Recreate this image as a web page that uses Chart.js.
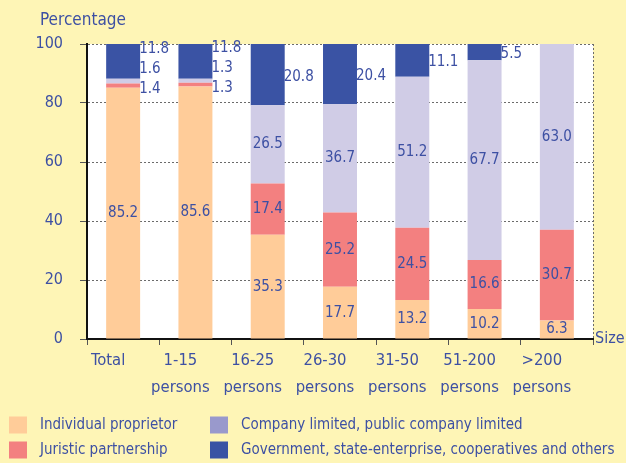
<!DOCTYPE html>
<html>
<head>
<meta charset="utf-8">
<script src="https://cdn.jsdelivr.net/npm/chart.js@4.4.1/dist/chart.umd.min.js"></script>
<style>
  html, body { margin: 0; padding: 0; background: #fef5b6; }
  #wrap { width: 626px; height: 463px; }
</style>
</head>
<body>
<div id="wrap"><canvas id="chart" width="626" height="463"></canvas></div>
<script>
// ---- data ----
const categories = ['Total', ['1-15', 'persons'], ['16-25', 'persons'], ['26-30', 'persons'],
                    ['31-50', 'persons'], ['51-200', 'persons'], ['>200', 'persons']];
const individual = [85.2, 85.6, 35.3, 17.7, 13.2, 10.2, 6.3];
const juristic   = [1.4, 1.3, 17.4, 25.2, 24.5, 16.6, 30.7];
const company    = [1.6, 1.3, 26.5, 36.7, 51.2, 67.7, 63.0];
const government = [11.8, 11.8, 20.8, 20.4, 11.1, 5.5, 0];
const yTicks     = [0, 20, 40, 60, 80, 100];
const seriesNames = ['Individual proprietor', 'Juristic partnership',
                     'Company limited, public company limited',
                     'Government, state-enterprise, cooperatives and others'];

// ---- look ----
const FONT = '"DejaVu Sans Condensed", "DejaVu Sans", sans-serif';
const textColor = '#3d50a3';
const barColors    = ['#ffcc99', '#f38080', '#d0cce6', '#3a53a4'];
const legendColors = ['#ffcc99', '#f38080', '#9999cc', '#3a53a4'];

// white plot background + dashed right edge
const plotFrame = {
  id: 'plotFrame',
  beforeDraw(chart) {
    const { ctx, chartArea: a } = chart;
    ctx.save();
    ctx.fillStyle = '#ffffff';
    ctx.fillRect(a.left, a.top, a.right - a.left, a.bottom - a.top);
    ctx.restore();
  },
  afterDraw(chart) {
    const { ctx, chartArea: a } = chart;
    ctx.save();
    ctx.strokeStyle = '#6b6b6b';
    ctx.lineWidth = 1;
    ctx.setLineDash([2, 2]);
    ctx.beginPath();
    ctx.moveTo(a.right + 0.5, a.top);
    ctx.lineTo(a.right + 0.5, a.bottom);
    ctx.stroke();
    ctx.setLineDash([]);
    // axis captions
    ctx.fillStyle = textColor;
    ctx.font = '17px ' + FONT;
    ctx.textBaseline = 'middle';
    ctx.textAlign = 'left';
    ctx.fillText('Percentage', 40, 21);
    ctx.font = '16px ' + FONT;
    ctx.fillText('Size', a.right + 2, a.bottom);
    ctx.restore();
  }
};

// value labels: inside segments, or beside the bar for the top / thin ones
const valueLabels = {
  id: 'valueLabels',
  afterDatasetsDraw(chart) {
    const ctx = chart.ctx;
    ctx.save();
    ctx.font = '15px ' + FONT;
    ctx.fillStyle = textColor;
    ctx.textBaseline = 'middle';
    chart.data.labels.forEach((_, i) => {
      const outside = [];
      chart.data.datasets.forEach((ds, d) => {
        const v = ds.data[i];
        if (!v) return;
        const bar = chart.getDatasetMeta(d).data[i];
        const mid = (bar.y + bar.base) / 2;
        if (d === 3 || v < 5) {
          outside.push({ v, x: bar.x + bar.width / 2 - 1, y: mid });
        } else {
          ctx.textAlign = 'center';
          ctx.fillText(v.toFixed(1), bar.x, mid);
        }
      });
      // thin segments sit in a little column beside the bar
      let prev = Infinity;
      outside.forEach((o, k) => {
        const y = outside.length > 1 ? Math.min(o.y + (k === 0 ? 4 : 0), prev - 20) : o.y + 2;
        ctx.textAlign = 'left';
        ctx.fillText(o.v.toFixed(1), o.x, y);
        prev = y;
      });
    });
    ctx.restore();
  }
};

// 2x2 legend under the axis
const gridLegend = {
  id: 'gridLegend',
  afterDraw(chart) {
    const ctx = chart.ctx;
    const colX = [9, 210];
    const rowY = [425, 450];
    ctx.save();
    ctx.font = '15px ' + FONT;
    ctx.textBaseline = 'middle';
    ctx.textAlign = 'left';
    seriesNames.forEach((name, d) => {
      const x = colX[Math.floor(d / 2)];
      const y = rowY[d % 2];
      ctx.fillStyle = legendColors[d];
      ctx.fillRect(x, y - 8.5, 18, 17);
      ctx.fillStyle = textColor;
      ctx.fillText(name, x + 31, y);
    });
    ctx.restore();
  }
};

const series = [individual, juristic, company, government];

new Chart(document.getElementById('chart'), {
  type: 'bar',
  data: {
    labels: categories,
    datasets: series.map((data, d) => ({
      label: seriesNames[d],
      data,
      backgroundColor: barColors[d],
      borderWidth: 0,
      barPercentage: 0.47,
      categoryPercentage: 1
    }))
  },
  options: {
    responsive: false,
    animation: false,
    devicePixelRatio: 1,
    layout: { padding: { left: 0, right: 33, top: 44, bottom: 0 } },
    plugins: {
      legend: { display: false },
      tooltip: { enabled: false }
    },
    scales: {
      x: {
        stacked: true,
        afterFit(scale) { scale.height = 124; },
        grid: { drawOnChartArea: false, tickLength: 6, color: '#555', offset: true },
        border: { color: '#111', width: 2 },
        ticks: {
          color: textColor,
          font: { family: FONT, size: 16.5, lineHeight: 1.6 },
          padding: 3,
          labelOffset: -15,
          maxRotation: 0,
          autoSkip: false
        }
      },
      y: {
        stacked: true,
        min: 0,
        max: 100,
        afterFit(scale) { scale.width = 87; },
        afterBuildTicks(scale) { scale.ticks = yTicks.map(v => ({ value: v })); },
        grid: { color: '#6b6b6b', lineWidth: 1, tickLength: 7, tickColor: '#555', tickBorderDash: [] },
        border: { color: '#111', width: 2, dash: [2, 2] },
        ticks: {
          color: textColor,
          font: { family: FONT, size: 16 },
          padding: 17
        }
      }
    }
  },
  plugins: [plotFrame, valueLabels, gridLegend]
});
</script>
</body>
</html>
